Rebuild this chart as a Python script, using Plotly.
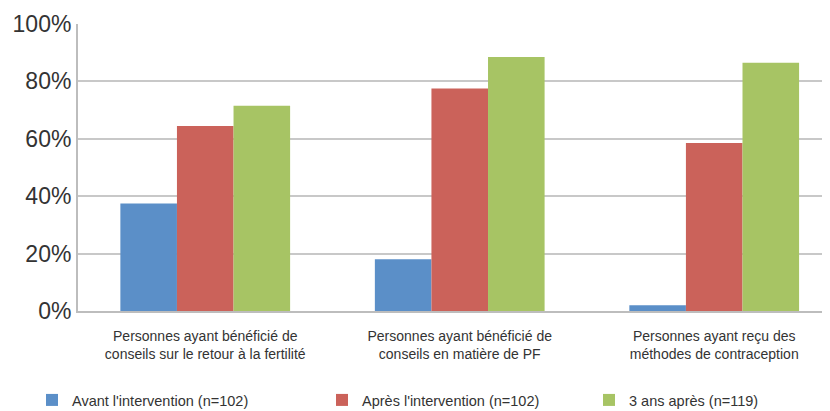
import plotly.graph_objects as go

categories = [
    "Personnes ayant bénéficié de<br>conseils sur le retour à la fertilité",
    "Personnes ayant bénéficié de<br>conseils en matière de PF",
    "Personnes ayant reçu des<br>méthodes de contraception",
]
series_names = [
    "Avant l'intervention (n=102)",
    "Après l'intervention (n=102)",
    "3 ans après (n=119)",
]
avant = [37.5, 18, 2]
apres = [64.5, 77.5, 58.5]
trois_ans = [71.5, 88.5, 86.5]
y_ticks = [0, 20, 40, 60, 80, 100]
y_tick_labels = ["0%", "20%", "40%", "60%", "80%", "100%"]

colors = ["#5B8FC8", "#CB625A", "#A7C464"]
FONT = "Liberation Sans, Arial, sans-serif"
TXT = "#333333"

# page body has an 8px default margin: figure is drawn 8px right/down
FW, FH = 822, 403
plot_left, plot_right, plot_top, plot_bottom = 70, 822, 16, 303

fig = go.Figure()
x_idx = list(range(len(categories)))
legend_ids = ["legend", "legend2", "legend3"]
for name, vals, col, lg in zip(series_names, [avant, apres, trois_ans], colors, legend_ids):
    fig.add_trace(go.Bar(x=x_idx, y=vals, name=name, marker_color=col,
                         marker_line_width=0, legend=lg, showlegend=True))

legend_icon_centers = [44, 334, 601]
for lg, cx in zip(legend_ids, legend_icon_centers):
    fig.update_layout({lg: dict(xref="container", yref="container",
                                x=(cx - 20) / FW, y=1 - 392 / FH,
                                xanchor="left", yanchor="middle",
                                bgcolor="rgba(0,0,0,0)", borderwidth=0,
                                font=dict(family=FONT, size=14.5, color=TXT))})

fig.update_layout(
    width=FW, height=FH, showlegend=True,
    margin=dict(l=plot_left, r=FW - plot_right, t=plot_top, b=FH - plot_bottom,
                autoexpand=False),
    paper_bgcolor="white", plot_bgcolor="white",
    barmode="group", bargap=0.333, bargroupgap=0,
    font=dict(family=FONT, color=TXT),
    xaxis=dict(range=[-0.5, 2.455], tickmode="array", tickvals=x_idx,
               ticktext=categories, showgrid=False, zeroline=False,
               showline=True, linecolor="#BDBDBD", linewidth=2,
               ticks="", automargin=False, tickangle=0, ticklabelstandoff=11,
               tickfont=dict(family=FONT, size=14, color=TXT)),
    yaxis=dict(range=[0, 100], tickmode="array", tickvals=y_ticks,
               ticktext=y_tick_labels,
               showgrid=True, gridcolor="#C8C8C8", gridwidth=2,
               zeroline=False, showline=True, linecolor="#BDBDBD", linewidth=2,
               ticks="", automargin=False,
               tickfont=dict(family=FONT, size=23, color=TXT)),
)

fig.write_html("out.html")
